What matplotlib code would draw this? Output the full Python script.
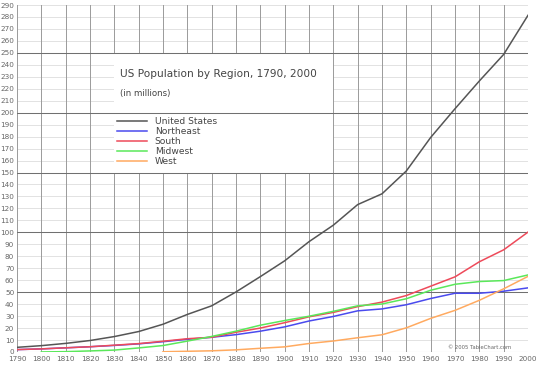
import matplotlib
matplotlib.use("Agg")
import matplotlib.pyplot as plt
from matplotlib.patches import Rectangle

years = [1790, 1800, 1810, 1820, 1830, 1840, 1850, 1860, 1870, 1880, 1890,
         1900, 1910, 1920, 1930, 1940, 1950, 1960, 1970, 1980, 1990, 2000]
us = [3.9, 5.3, 7.2, 9.6, 12.9, 17.1, 23.2, 31.4, 38.6, 50.2, 63.0,
      76.2, 92.2, 106.0, 123.2, 132.2, 151.3, 179.3, 203.3, 226.5, 248.7, 281.4]
northeast = [2.0, 2.6, 3.5, 4.4, 5.5, 6.8, 8.6, 10.6, 12.3, 14.5, 17.4,
             21.0, 25.9, 29.7, 34.4, 36.0, 39.5, 44.7, 49.1, 49.1, 50.8, 53.6]
south = [2.0, 2.6, 3.5, 4.4, 5.7, 7.0, 9.0, 11.1, 12.3, 16.5, 20.0,
         24.5, 29.4, 33.1, 37.9, 41.7, 47.2, 55.0, 62.8, 75.4, 85.4, 100.2]
midwest_years = years[1:]
midwest = [0.05, 0.3, 0.9, 1.6, 3.4, 5.4, 9.1, 13.0, 17.4, 22.4,
           26.3, 29.9, 34.0, 38.6, 40.1, 44.5, 51.6, 56.6, 58.9, 59.7, 64.4]
west_years = years[6:]
west = [0.2, 0.6, 1.0, 1.8, 3.1, 4.3, 7.1, 9.2, 11.9, 14.4, 20.2,
        28.1, 34.8, 43.2, 52.8, 63.2]

series = [
    ("United States", years, us, "#555555"),
    ("Northeast", years, northeast, "#4a4aee"),
    ("South", years, south, "#ee4a5a"),
    ("Midwest", midwest_years, midwest, "#5ae85a"),
    ("West", west_years, west, "#ffaa60"),
]

y_ticks = list(range(0, 300, 10))
title = "US Population by Region, 1790, 2000"
subtitle = "(in millions)"

fig = plt.figure(figsize=(5.4, 3.71), dpi=100)
ax = fig.add_axes([17/540, 19/371, 511/540, 347/371])
ax.set_xlim(1790, 2000)
ax.set_ylim(0, 290)
for s in ax.spines.values():
    s.set_visible(False)

# grid
for v in y_ticks:
    if v % 50 == 0:
        ax.axhline(v, color="#707070", lw=0.75, zorder=3)
    else:
        ax.axhline(v, color="#e2e2e2", lw=0.7, zorder=1)
for x in years:
    ax.axvline(x, color="#9a9a9a", lw=0.7, zorder=1)

# white title box
ax.add_patch(Rectangle((1830, 150), 90, 100, facecolor="white",
                       edgecolor="none", zorder=2))

handles = []
for name, xs, ys, c in series:
    h, = ax.plot(xs, ys, color=c, lw=1.1, zorder=4, label=name)
    handles.append(h)

ax.set_xticks(years)
ax.set_xticklabels([str(y) for y in years])
ax.set_yticks(y_ticks)
ax.set_yticklabels([str(v) for v in y_ticks])
ax.tick_params(axis="both", labelsize=5.2, colors="#666666", length=0, pad=3)
ax.tick_params(axis="y", pad=2)

ax.text(1832.5, 232, title, fontsize=7.6, color="#444444", va="center", ha="left", zorder=5)
ax.text(1832.5, 216, subtitle, fontsize=6.2, color="#444444", va="center", ha="left", zorder=5)

leg = ax.legend(handles=handles, loc="upper left",
                bbox_to_anchor=((1831.2 - 1790) / 210, 196.5 / 290),
                frameon=False, fontsize=6.6, handlelength=3.2,
                handletextpad=0.9, labelspacing=0.12, borderpad=0,
                borderaxespad=0)
for t in leg.get_texts():
    t.set_color("#444444")
leg.set_zorder(5)

ax.text(1993, 3.5, "© 2005 TableChart.com", fontsize=3.8, color="#666666",
        ha="right", va="center", zorder=5)

fig.savefig("out.png", dpi=100)
